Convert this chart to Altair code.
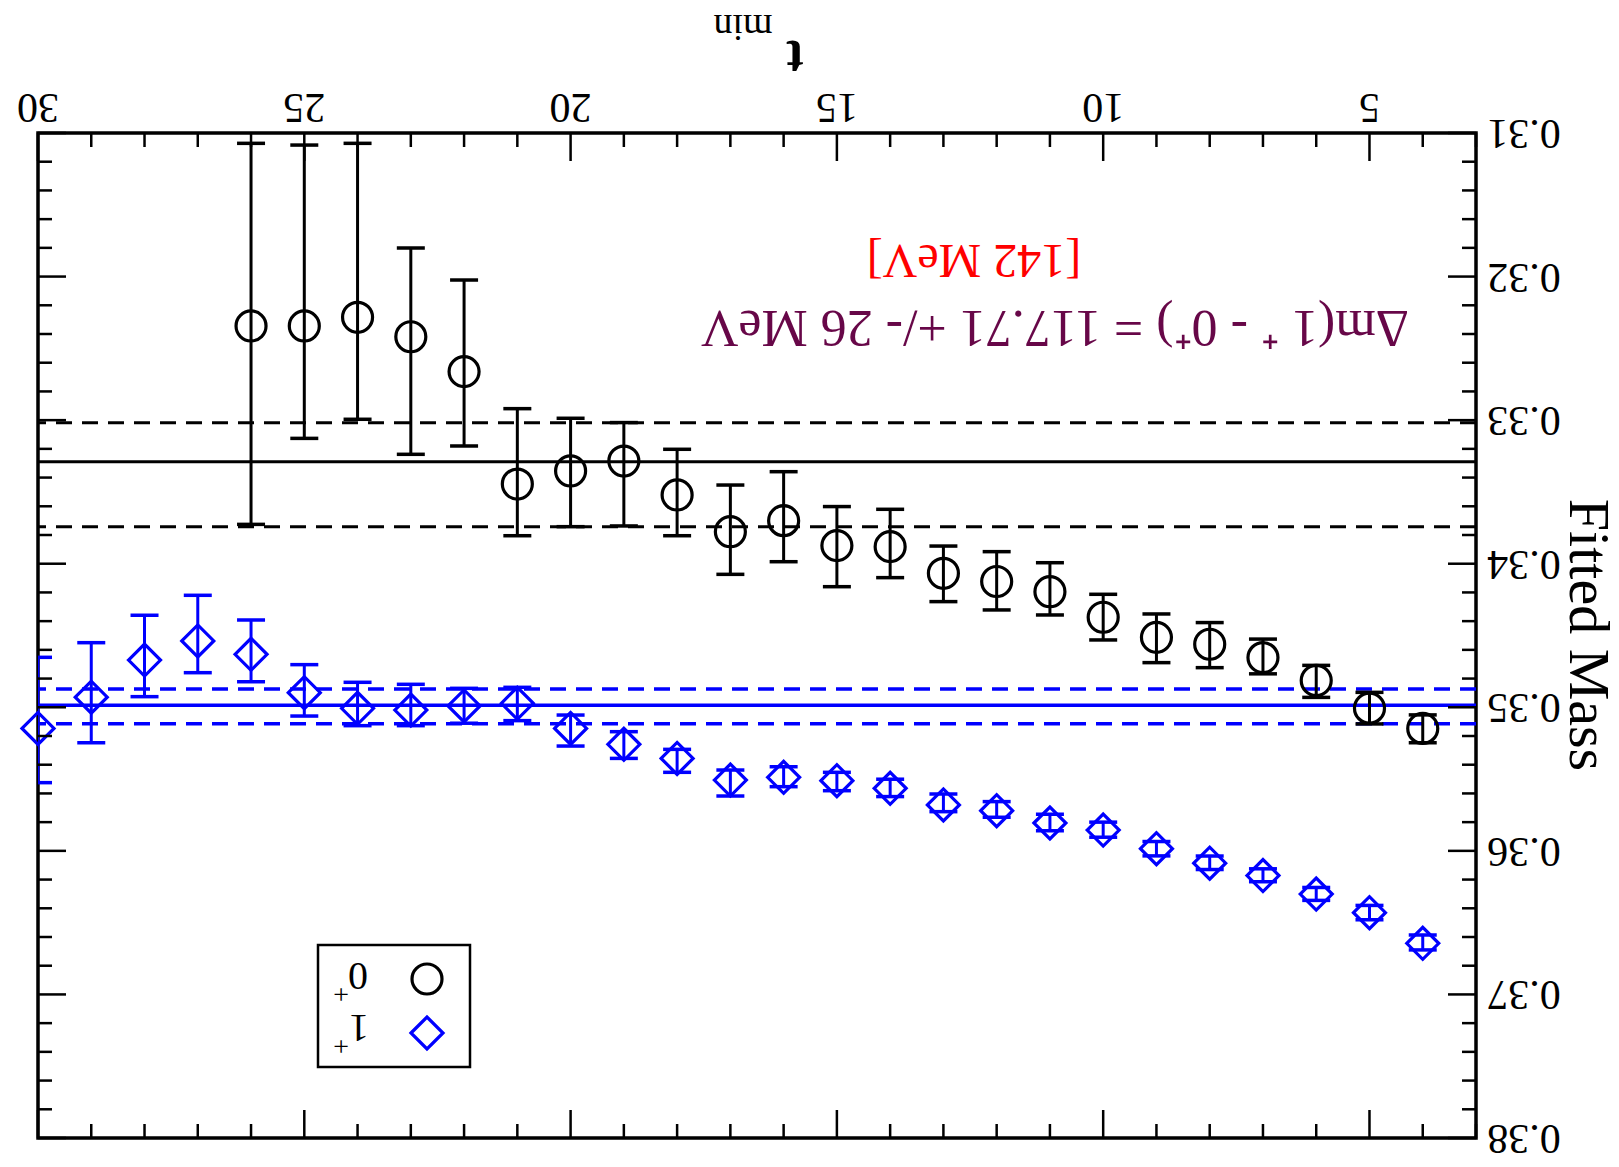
import altair as alt
import pandas as pd

# ---------------- data ----------------
t_black = [26, 25, 24, 23, 22, 21, 20, 19, 18, 17, 16, 15, 14, 13, 12, 11, 10, 9, 8, 7, 6, 5, 4]
m_black = [0.32344, 0.32344, 0.32284, 0.32419, 0.32662, 0.33445, 0.33354, 0.33285, 0.33521,
           0.33777, 0.33700, 0.33874, 0.33881, 0.34067, 0.34124, 0.34195, 0.34373, 0.34513,
           0.34561, 0.34654, 0.34813, 0.35006, 0.35147]
lo_black = [0.31072, 0.31084, 0.31072, 0.31801, 0.32024, 0.32920, 0.32987, 0.33017, 0.33203,
            0.33452, 0.33359, 0.33602, 0.33621, 0.33877, 0.33916, 0.33993, 0.34213, 0.34350,
            0.34410, 0.34525, 0.34708, 0.34896, 0.35053]
hi_black = [0.33726, 0.33127, 0.32994, 0.33238, 0.33180, 0.33805, 0.33742, 0.33737, 0.33805,
            0.34074, 0.33986, 0.34160, 0.34097, 0.34264, 0.34322, 0.34357, 0.34531, 0.34689,
            0.34724, 0.34767, 0.34931, 0.35116, 0.35247]

t_blue = [30, 29, 28, 27, 26, 25, 24, 23, 22, 21, 20, 19, 18, 17, 16, 15, 14, 13, 12, 11, 10, 9, 8, 7, 6, 5, 4]
m_blue = [0.35147, 0.34930, 0.34671, 0.34538, 0.34631, 0.34898, 0.35007, 0.35019, 0.34991,
          0.34972, 0.35147, 0.35258, 0.35356, 0.35507, 0.35488, 0.35511, 0.35564, 0.35680,
          0.35720, 0.35806, 0.35855, 0.35985, 0.36086, 0.36172, 0.36301, 0.36431, 0.36644]
lo_blue = [0.34652, 0.34550, 0.34359, 0.34220, 0.34392, 0.34703, 0.34826, 0.34840, 0.34868,
           0.34861, 0.35054, 0.35170, 0.35293, 0.35437, 0.35414, 0.35453, 0.35501, 0.35604,
           0.35657, 0.35745, 0.35800, 0.35935, 0.36036, 0.36125, 0.36255, 0.36380, 0.36586]
hi_blue = [0.35525, 0.35247, 0.34926, 0.34759, 0.34822, 0.35061, 0.35128, 0.35128, 0.35111,
           0.35093, 0.35270, 0.35356, 0.35453, 0.35618, 0.35553, 0.35581, 0.35622, 0.35727,
           0.35766, 0.35860, 0.35905, 0.36035, 0.36130, 0.36215, 0.36345, 0.36480, 0.36690]

fit_black = [0.33289]
band_black = [0.33018, 0.33742]
fit_blue = [0.34985]
band_blue = [0.34873, 0.35114]

x_major = [5, 10, 15, 20, 25, 30]
x_major_labels = ["5", "10", "15", "20", "25", "30"]
x_minor = [3, 4, 6, 7, 8, 9, 11, 12, 13, 14, 16, 17, 18, 19, 21, 22, 23, 24, 26, 27, 28, 29]
y_major = [0.31, 0.32, 0.33, 0.34, 0.35, 0.36, 0.37, 0.38]
y_major_labels = ["0.31", "0.32", "0.33", "0.34", "0.35", "0.36", "0.37", "0.38"]
y_minor = [0.312, 0.314, 0.316, 0.318, 0.322, 0.324, 0.326, 0.328, 0.332, 0.334, 0.336, 0.338,
           0.342, 0.344, 0.346, 0.348, 0.352, 0.354, 0.356, 0.358, 0.362, 0.364, 0.366, 0.368,
           0.372, 0.374, 0.376, 0.378]

x_title = "t"
x_title_sub = "min"
y_title = "Fitted Mass"
note_main = "\u0394m(1 \u207a - 0\u207a)  = 117.71 +/- 26 MeV"
note_red = "[142 MeV]"
legend_labels = ["0", "1"]
legend_sup = "+"

# ---------------- layout ----------------
W, H = 1438, 1005
FONT = "Liberation Serif"
BLUE = "#0000ff"
MAROON = "#670748"

xs = alt.Scale(domain=[3, 30], reverse=True, nice=False, zero=False)
ys = alt.Scale(domain=[0.31, 0.38], reverse=True, nice=False, zero=False)


def X(f):
    return alt.X(f, type="quantitative", scale=xs, axis=None)


def Y(f):
    return alt.Y(f, type="quantitative", scale=ys, axis=None)


black = pd.DataFrame({"t": t_black, "m": m_black, "lo": lo_black, "hi": hi_black})
blue = pd.DataFrame({"t": t_blue, "m": m_blue, "lo": lo_blue, "hi": hi_blue})
black_caps = pd.DataFrame({"t": t_black + t_black, "v": lo_black + hi_black})
blue_caps = pd.DataFrame({"t": t_blue + t_blue, "v": lo_blue + hi_blue})

layers = []

# fit lines
layers.append(alt.Chart(pd.DataFrame({"v": fit_black})).mark_rule(color="black", strokeWidth=3).encode(y=Y("v")))
layers.append(alt.Chart(pd.DataFrame({"v": band_black})).mark_rule(color="black", strokeWidth=3, strokeDash=[16, 10]).encode(y=Y("v")))
layers.append(alt.Chart(pd.DataFrame({"v": fit_blue})).mark_rule(color=BLUE, strokeWidth=3.5).encode(y=Y("v")))
layers.append(alt.Chart(pd.DataFrame({"v": band_blue})).mark_rule(color=BLUE, strokeWidth=3.5, strokeDash=[16, 10]).encode(y=Y("v")))

# error bars
for df, caps, col in [(black, black_caps, "black"), (blue, blue_caps, BLUE)]:
    layers.append(alt.Chart(df).mark_rule(color=col, strokeWidth=3, clip=True).encode(
        x=X("t"), y=Y("lo"), y2=alt.Y2("hi")))
    layers.append(alt.Chart(caps).mark_tick(color=col, orient="horizontal", size=28, thickness=3.5,
                                            clip=True, opacity=1).encode(x=X("t"), y=Y("v")))

# points
layers.append(alt.Chart(black).mark_point(shape="circle", size=900, strokeWidth=3.2, filled=False,
                                          color="black", opacity=1).encode(x=X("t"), y=Y("m")))
layers.append(alt.Chart(blue).mark_point(shape="diamond", size=1024, strokeWidth=3.2, filled=False,
                                         color=BLUE, opacity=1).encode(x=X("t"), y=Y("m")))

# ticks (inward, all four sides)
xmaj = pd.DataFrame({"t": x_major, "label": x_major_labels})
xmin = pd.DataFrame({"t": x_minor})
ymaj = pd.DataFrame({"v": y_major, "label": y_major_labels})
ymin = pd.DataFrame({"v": y_minor})
for df, ln in [(xmaj, 28), (xmin, 14)]:
    layers.append(alt.Chart(df).mark_rule(color="black", strokeWidth=2.5).encode(
        x=X("t"), y=alt.value(0), y2=alt.value(ln)))
    layers.append(alt.Chart(df).mark_rule(color="black", strokeWidth=2.5).encode(
        x=X("t"), y=alt.value(H), y2=alt.value(H - ln)))
for df, ln in [(ymaj, 28), (ymin, 14)]:
    layers.append(alt.Chart(df).mark_rule(color="black", strokeWidth=2.5).encode(
        y=Y("v"), x=alt.value(W), x2=alt.value(W - ln)))
    layers.append(alt.Chart(df).mark_rule(color="black", strokeWidth=2.5).encode(
        y=Y("v"), x=alt.value(0), x2=alt.value(ln)))

# tick labels (upside down)
layers.append(alt.Chart(xmaj).mark_text(font=FONT, fontSize=42, angle=180, align="center",
                                        baseline="middle", color="black").encode(
    x=X("t"), y=alt.value(-26), text="label:N"))
layers.append(alt.Chart(ymaj).mark_text(font=FONT, fontSize=42, angle=180, align="center",
                                        baseline="middle", color="black").encode(
    y=Y("v"), x=alt.value(W + 48), text="label:N"))


def txt(s, x, y, size, color="black", angle=180, weight="normal"):
    return alt.Chart(pd.DataFrame({"s": [s]})).mark_text(
        font=FONT, fontSize=size, angle=angle, align="center", baseline="middle",
        color=color, fontWeight=weight).encode(text="s:N", x=alt.value(x), y=alt.value(y))


# axis titles
layers.append(txt(x_title, 757, -76, 52, weight="bold"))
layers.append(txt(x_title_sub, 705, -107, 38))
layers.append(txt(y_title, W + 111, 502, 58, angle=90))

# annotations
layers.append(txt(note_main, 1017, 194, 52, color=MAROON))
layers.append(txt(note_red, 936, 126, 48, color="red"))

# legend
layers.append(alt.Chart(pd.DataFrame({"a": [0]})).mark_rect(fillOpacity=0, stroke="black", strokeWidth=2.5).encode(
    x=alt.value(280), x2=alt.value(432), y=alt.value(812), y2=alt.value(934)))
layers.append(alt.Chart(pd.DataFrame({"a": [0]})).mark_point(shape="circle", size=900, strokeWidth=3.2, filled=False,
                                                           color="black", opacity=1).encode(
    x=alt.value(389), y=alt.value(846)))
layers.append(alt.Chart(pd.DataFrame({"a": [0]})).mark_point(shape="diamond", size=1024, strokeWidth=3.2, filled=False,
                                                           color=BLUE, opacity=1).encode(
    x=alt.value(389), y=alt.value(900)))
layers.append(txt(legend_labels[0], 320, 842, 40))
layers.append(txt(legend_sup, 303, 860, 28))
layers.append(txt(legend_labels[1], 321, 894, 40))
layers.append(txt(legend_sup, 303, 912, 28))

chart = alt.layer(*layers).properties(
    width=W, height=H,
    autosize=alt.AutoSizeParams(type="none"),
    padding={"left": 38, "top": 133, "right": 143, "bottom": 29},
).configure(background="white").configure_view(stroke="black", strokeWidth=3.5)

chart.save("out.html", embed_options={"renderer": "svg", "actions": False})
